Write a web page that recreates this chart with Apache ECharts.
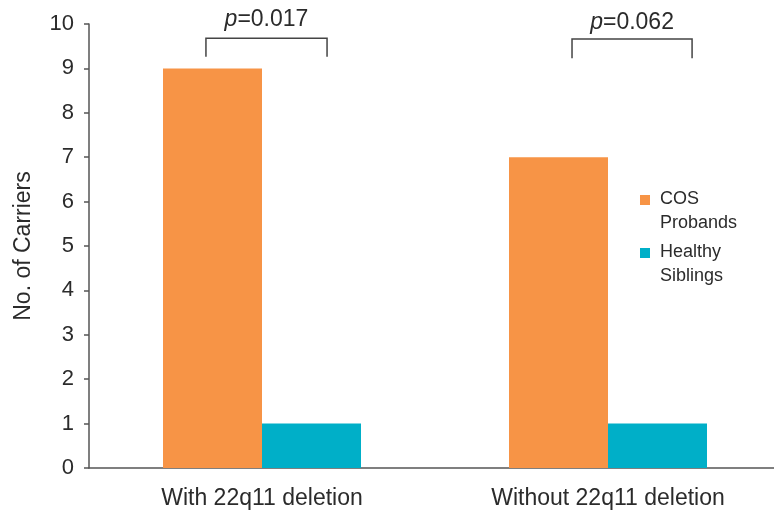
<!DOCTYPE html>
<html>
<head>
<meta charset="utf-8">
<script src="https://cdn.jsdelivr.net/npm/echarts@6/dist/echarts.min.js"></script>
<style>html,body{margin:0;padding:0;background:#fff;overflow:hidden;width:774px;height:518px;}#c{width:782px;height:518px;}</style>
</head>
<body>
<div id="c"></div>
<script>
const categories = ['With 22q11 deletion', 'Without 22q11 deletion'];
const cosProbands = [9, 7];
const healthySiblings = [1, 1];
const pValues = ['0.017', '0.062'];
const yTicks = [0, 1, 2, 3, 4, 5, 6, 7, 8, 9, 10];

const FONT = 'Liberation Sans, Arial, Helvetica, sans-serif';
// bracket geometry (style, in fractions of the category band / axis values)
const bracketGeom = [
  { l: -0.162, r: 0.188, top: 9.68, leg: 9.26, text: 10.1 },
  { l: -0.104, r: 0.243, top: 9.66, leg: 9.23, text: 10.03 }
];
// legend icon: a 10px square near the top of a tall, mostly empty symbol box
const legendIcon = 'path://M0,8L10,8L10,18L0,18Z M0,0L0.01,0L0.01,0.01Z M14.99,47.99L15,47.99L15,48Z';

const chart = echarts.init(document.getElementById('c'), null, { renderer: 'canvas' });
chart.setOption({
  animation: false,
  backgroundColor: '#ffffff',
  grid: { left: 89, top: 24, width: 692, height: 444, containLabel: false },
  legend: {
    orient: 'vertical',
    left: 640,
    top: 187,
    itemWidth: 15,
    itemHeight: 48,
    itemGap: 5,
    icon: legendIcon,
    symbolKeepAspect: false,
    padding: 0,
    textStyle: { fontFamily: FONT, fontSize: 18, color: '#2b2b2b', lineHeight: 24 },
    formatter: function (n) { return n.replace(' ', '\n'); },
    data: ['COS Probands', 'Healthy Siblings']
  },
  xAxis: {
    type: 'category',
    data: categories,
    axisLine: { lineStyle: { color: '#555', width: 1.5 } },
    axisTick: { show: false },
    axisLabel: { margin: 19, fontFamily: FONT, fontSize: 23, color: '#2b2b2b' }
  },
  yAxis: {
    type: 'value',
    min: yTicks[0],
    max: yTicks[yTicks.length - 1],
    interval: 1,
    name: 'No. of Carriers',
    nameLocation: 'middle',
    nameGap: 54,
    nameTextStyle: { fontFamily: FONT, fontSize: 23, color: '#2b2b2b' },
    axisLine: { show: true, lineStyle: { color: '#555', width: 1.5 } },
    axisTick: { show: true, length: 5, lineStyle: { color: '#555', width: 1.5 } },
    splitLine: { show: false },
    axisLabel: { margin: 15, fontFamily: FONT, fontSize: 22, color: '#2b2b2b' }
  },
  series: [
    {
      name: 'COS Probands',
      type: 'bar',
      data: cosProbands,
      barWidth: 99,
      barGap: '0%',
      itemStyle: { color: '#F79446' }
    },
    {
      name: 'Healthy Siblings',
      type: 'bar',
      data: healthySiblings,
      barWidth: 99,
      barGap: '0%',
      itemStyle: { color: '#00AFC8' }
    },
    {
      name: 'brackets',
      type: 'custom',
      silent: true,
      z: 5,
      data: pValues.map(function (p, i) { return [i, p]; }),
      renderItem: function (params, api) {
        const i = api.value(0);
        const g = bracketGeom[i];
        const band = api.size([1, 0])[0];
        const c = api.coord([i, g.top]);
        const x1 = c[0] + g.l * band;
        const x2 = c[0] + g.r * band;
        const yTop = c[1];
        const yLeg = api.coord([i, g.leg])[1];
        const yText = api.coord([i, g.text])[1];
        return {
          type: 'group',
          children: [
            {
              type: 'polyline',
              shape: { points: [[x1, yLeg], [x1, yTop], [x2, yTop], [x2, yLeg]] },
              style: { stroke: '#444', lineWidth: 1.5, fill: null }
            },
            {
              type: 'text',
              style: {
                text: '{i|p}=' + pValues[i],
                x: (x1 + x2) / 2,
                y: yText,
                align: 'center',
                verticalAlign: 'middle',
                font: '23px ' + FONT,
                fill: '#2b2b2b',
                rich: {
                  i: { fontStyle: 'italic', fontFamily: FONT, fontSize: 23, fill: '#2b2b2b', color: '#2b2b2b' }
                }
              }
            }
          ]
        };
      }
    }
  ]
});
</script>
</body>
</html>
